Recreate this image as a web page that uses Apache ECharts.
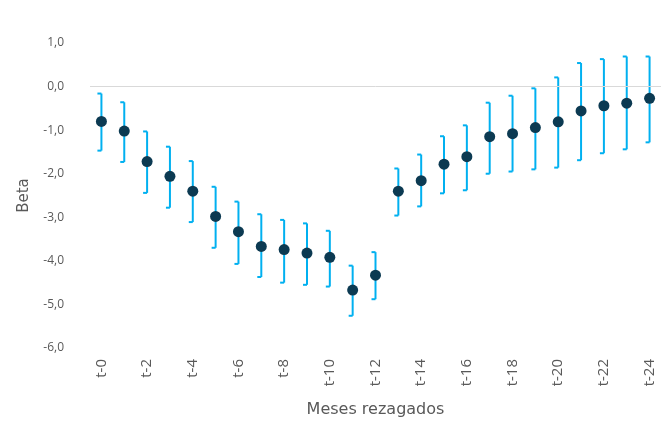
<!DOCTYPE html>
<html>
<head>
<meta charset="utf-8">
<script src="https://cdn.jsdelivr.net/npm/echarts@6/dist/echarts.min.js"></script>
<style>
  html, body { margin: 0; padding: 0; background: #fff; }
  #chart { width: 666px; height: 423px; }
</style>
</head>
<body>
<div id="chart"></div>
<script>
// meses rezagados t-0 ... t-24
const categories = [];
for (let i = 0; i <= 24; i++) categories.push('t-' + i);

// coeficiente beta
const beta = [-0.80, -1.02, -1.72, -2.06, -2.40, -2.98, -3.33, -3.67, -3.74, -3.82, -3.92, -4.67, -4.33,
              -2.40, -2.16, -1.78, -1.61, -1.15, -1.08, -0.94, -0.81, -0.56, -0.44, -0.38, -0.27];
// intervalo de confianza
const upper = [-0.16, -0.36, -1.03, -1.38, -1.71, -2.30, -2.64, -2.93, -3.06, -3.14, -3.31, -4.11, -3.80,
               -1.88, -1.56, -1.14, -0.89, -0.37, -0.21, -0.04, 0.21, 0.54, 0.63, 0.69, 0.69];
const lower = [-1.47, -1.73, -2.44, -2.78, -3.11, -3.70, -4.07, -4.37, -4.50, -4.55, -4.59, -5.26, -4.88,
               -2.96, -2.75, -2.45, -2.38, -2.00, -1.95, -1.90, -1.86, -1.69, -1.53, -1.44, -1.28];

const errData = categories.map((c, i) => [i, lower[i], upper[i]]);

let chart = echarts.init(document.getElementById('chart'));

let option = {
    backgroundColor: '#fff',
    animation: false,
    textStyle: { fontFamily: 'Open Sans' },
    grid: { left: 90, right: 5, top: 43, bottom: 72 },
    xAxis: {
        type: 'category',
        data: categories,
        boundaryGap: true,
        name: 'Meses rezagados',
        nameLocation: 'middle',
        nameGap: 54,
        nameTextStyle: { color: '#595959', fontSize: 16, fontFamily: 'DejaVu Sans' },
        axisLine: { show: false },
        axisTick: { show: false },
        axisLabel: {
            color: '#595959',
            fontSize: 15,
            rotate: 90,
            interval: 1,
            margin: 11
        },
        splitLine: { show: false }
    },
    yAxis: {
        type: 'value',
        min: -6,
        max: 1,
        interval: 1,
        name: 'Beta',
        nameLocation: 'middle',
        nameGap: 58,
        nameTextStyle: { color: '#595959', fontSize: 15, fontFamily: 'DejaVu Sans' },
        axisLine: { show: false },
        axisTick: { show: false },
        axisLabel: {
            color: '#595959',
            fontSize: 12,
            margin: 26,
            formatter: v => v.toFixed(1).replace('.', ',')
        },
        splitLine: { show: false }
    },
    series: [
        {
            // línea del cero
            type: 'line',
            data: [],
            silent: true,
            markLine: {
                symbol: 'none',
                silent: true,
                label: { show: false },
                lineStyle: { color: '#d9d9d9', width: 1, type: 'solid' },
                data: [{ yAxis: 0 }]
            }
        },
        {
            name: 'IC',
            type: 'custom',
            data: errData,
            z: 2,
            renderItem: function (params, api) {
                const x = api.value(0);
                const lo = api.coord([x, api.value(1)]);
                const hi = api.coord([x, api.value(2)]);
                const cap = 4;
                const style = { stroke: '#00b0f0', lineWidth: 2, fill: null };
                return {
                    type: 'group',
                    children: [
                        { type: 'line', shape: { x1: hi[0], y1: hi[1], x2: lo[0], y2: lo[1] }, style: style },
                        { type: 'line', shape: { x1: hi[0] - cap, y1: hi[1], x2: hi[0], y2: hi[1] }, style: style },
                        { type: 'line', shape: { x1: lo[0] - cap, y1: lo[1], x2: lo[0], y2: lo[1] }, style: style }
                    ]
                };
            }
        },
        {
            name: 'Beta',
            type: 'scatter',
            data: beta,
            z: 3,
            symbol: 'circle',
            symbolSize: 11,
            itemStyle: { color: '#0c3a52', opacity: 1 }
        }
    ]
};
chart.setOption(option);
</script>
</body>
</html>
